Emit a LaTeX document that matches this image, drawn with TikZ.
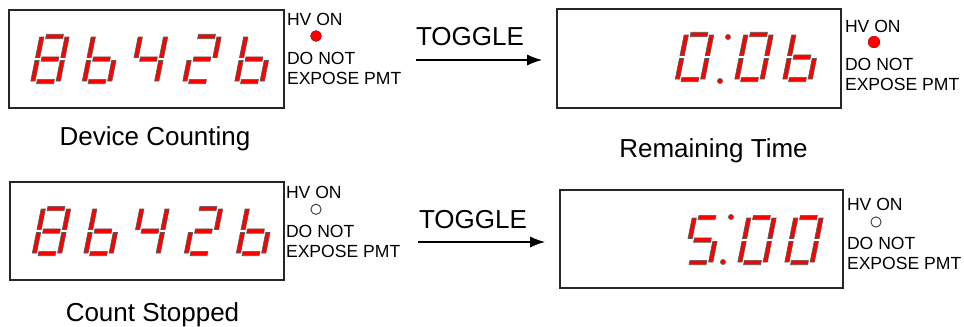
\documentclass[tikz,border=0pt]{standalone}
\usepackage{fontspec}
\setmainfont{Liberation Sans}
\usetikzlibrary{arrows.meta}

\tikzset{
  seg/.style={fill=red, draw=black!65, line width=0.35pt},
  panel/.style={draw=black!85, line width=0.7pt},
  lbl/.style={font=\fontsize{10}{11.4}\selectfont, inner sep=0pt, anchor=west, align=left},
  caption/.style={font=\fontsize{14.8}{17}\selectfont, inner sep=0pt, anchor=base},
  arr/.style={-{Latex[length=8.5pt,width=6.3pt]}, line width=0.6pt},
  hvon/.style={fill=red, draw=red!70!black, line width=0.3pt},
  hvoff/.style={fill=white, draw=black!80, line width=0.5pt},
  colon/.style={fill=red, draw=black!60, line width=0.3pt}
}

% one segment each, digit frame is 30 x 50
\newcommand{\segA}{\draw[seg] (6.5,0.3) rectangle (23.5,4.7);}
\newcommand{\segB}{\draw[seg] (25.5,3) rectangle (29.8,23.5);}
\newcommand{\segC}{\draw[seg] (25.5,26.5) rectangle (29.8,47);}
\newcommand{\segD}{\draw[seg] (6.5,45.3) rectangle (23.5,49.7);}
\newcommand{\segE}{\draw[seg] (0.2,26.5) rectangle (4.5,47);}
\newcommand{\segF}{\draw[seg] (0.2,3) rectangle (4.5,23.5);}
\newcommand{\segG}{\draw[seg] (6.5,22.8) rectangle (23.5,27.2);}
\newcommand{\segdigit}[3]{\begin{scope}[shift={(#1,#2)},xslant=0.2]#3\end{scope}}

\begin{document}
\begin{tikzpicture}[x=0.02cm,y=-0.02cm]
	\useasboundingbox (0,0) rectangle (964,326);

	% device counting
	\draw[panel] (9,10) rectangle (284,108);
	\segdigit{40}{34}{\segA\segB\segC\segD\segE\segF\segG}
	\segdigit{91.5}{34}{\segF\segE\segG\segD\segC}
	\segdigit{138.5}{34}{\segF\segG\segB\segC}
	\segdigit{192}{34}{\segA\segB\segG\segE\segD}
	\segdigit{244}{34}{\segF\segE\segG\segD\segC}
	\node[lbl] (hv1) at (286.7,19) {HV ON};
	\draw[hvon] (316,36) circle[radius=3.1pt];
	\node[lbl] (warn1) at (286.7,68.5) {DO NOT\\EXPOSE PMT};
	\node[caption] (cnt) at (155,145) {Device Counting};

	% remaining time
	\draw[panel] (557,9) rectangle (841,108);
	\segdigit{684.5}{32}{\segA\segB\segC\segD\segE\segF}
	\draw[colon] (728,37) circle[radius=1.5pt];
	\draw[colon] (720,81) circle[radius=1.5pt];
	\segdigit{744}{32}{\segA\segB\segC\segD\segE\segF}
	\segdigit{792}{32}{\segF\segE\segG\segD\segC}
	\node[lbl] (hv2) at (844.7,26) {HV ON};
	\draw[hvon] (874,42) circle[radius=3.3pt];
	\node[lbl] (warn2) at (844.7,74.5) {DO NOT\\EXPOSE PMT};
	\node[caption] (rem) at (713.5,157) {Remaining Time};

	\coordinate (tog1a) at (416,60);
	\coordinate (tog1b) at (542,60);
	\draw[arr] (tog1a) -- (tog1b);
	\node[caption] (tog1) at (470,45) {TOGGLE};

	% count stopped
	\draw[panel] (10,182) rectangle (284,280);
	\segdigit{41.5}{206}{\segA\segB\segC\segD\segE\segF\segG}
	\segdigit{93}{206}{\segF\segE\segG\segD\segC}
	\segdigit{140}{206}{\segF\segG\segB\segC}
	\segdigit{193.5}{206}{\segA\segB\segG\segE\segD}
	\segdigit{245.5}{206}{\segF\segE\segG\segD\segC}
	\node[lbl] (hv3) at (285.7,192.5) {HV ON};
	\draw[hvoff] (316,209.3) circle[radius=2.9pt];
	\node[lbl] (warn3) at (285.7,241.5) {DO NOT\\EXPOSE PMT};
	\node[caption] (stp) at (152.5,321) {Count Stopped};

	% set time
	\draw[panel] (560,190) rectangle (843,288);
	\segdigit{692.5}{215}{\segA\segF\segG\segC\segD}
	\draw[colon] (731,217) circle[radius=1.5pt];
	\draw[colon] (723,262) circle[radius=1.5pt];
	\segdigit{747}{215}{\segA\segB\segC\segD\segE\segF}
	\segdigit{794}{215}{\segA\segB\segC\segD\segE\segF}
	\node[lbl] (hv4) at (846.7,204) {HV ON};
	\draw[hvoff] (876,222) circle[radius=2.9pt];
	\node[lbl] (warn4) at (846.7,253.5) {DO NOT\\EXPOSE PMT};

	\coordinate (tog2a) at (418,242);
	\coordinate (tog2b) at (545,242);
	\draw[arr] (tog2a) -- (tog2b);
	\node[caption] (tog2) at (473,228) {TOGGLE};
\end{tikzpicture}
\end{document}
